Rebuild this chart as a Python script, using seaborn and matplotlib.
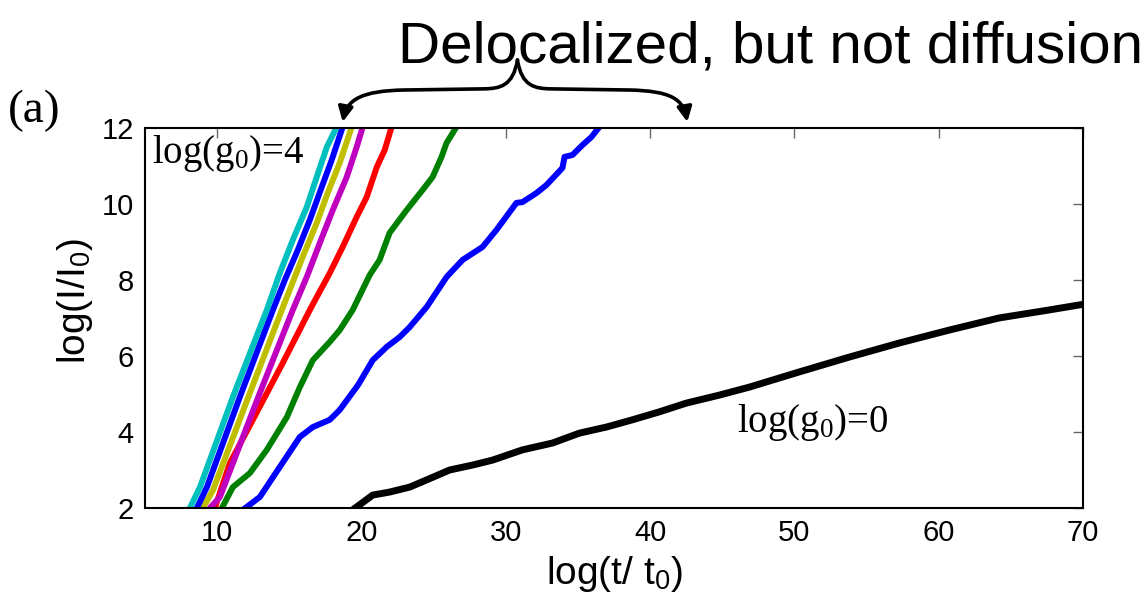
import numpy as np
import pandas as pd
import matplotlib
matplotlib.use("Agg")
import matplotlib.pyplot as plt
import seaborn as sns
from matplotlib.path import Path
from matplotlib.patches import FancyArrowPatch

# ======================
# Datos
# ======================
cian_x = [8.11, 8.81, 11.09, 13.44, 14.34, 15.24, 16.21, 16.90, 17.60, 18.29]
cian_y = [2.0, 2.55, 4.92, 7.21, 8.18, 9.05, 9.92, 10.71, 11.50, 12.03]

azul1_x = [8.60, 9.29, 11.57, 13.86, 14.69, 15.59, 16.42, 17.25, 17.94, 18.70]
azul1_y = [2.0, 2.55, 4.92, 7.21, 8.00, 8.79, 9.58, 10.45, 11.16, 12.03]

amarillo_x = [9.01, 9.71, 12.27, 14.48, 15.03, 15.93, 16.90, 17.66, 18.49, 19.33]
amarillo_y = [2.0, 2.47, 5.03, 7.21, 7.74, 8.61, 9.50, 10.29, 11.08, 12.03]

magenta_x = [9.50, 10.19, 12.96, 15.24, 16.21, 17.11, 18.01, 18.98, 19.67, 20.09]
magenta_y = [2.0, 2.29, 5.03, 7.21, 8.08, 8.97, 9.84, 10.71, 11.50, 12.03]

rojo_x = [9.84, 10.88, 12.47, 14.55, 16.42, 16.90, 17.80, 18.70, 19.67, 20.36, 21.06, 21.61, 22.09]
rojo_y = [2.0, 3.18, 4.32, 5.82, 7.21, 7.55, 8.18, 8.87, 9.66, 10.18, 10.97, 11.42, 12.03]

verde_x = [10.33, 11.09, 12.27, 13.44, 14.83, 15.73, 16.63, 17.80, 18.49, 19.39,
           20.57, 21.26, 21.95, 23.13, 24.24, 24.93, 25.55, 25.90, 26.59]
verde_y = [2.0, 2.55, 2.92, 3.53, 4.39, 5.18, 5.89, 6.37, 6.68, 7.21,
           8.13, 8.53, 9.24, 9.84, 10.37, 10.71, 11.24, 11.61, 12.03]

azul2_x = [11.78, 12.96, 14.34, 15.73, 16.63, 17.80, 18.49, 19.77, 20.78, 21.75, 22.65,
           23.34, 24.52, 25.90, 27.01, 28.39, 29.36, 30.74, 31.16, 32.13, 32.82,
           33.93, 34.07, 34.62, 35.31, 35.93, 36.49]
azul2_y = [1.95, 2.29, 3.08, 3.87, 4.13, 4.32, 4.58, 5.24, 5.89, 6.24, 6.50,
           6.76, 7.29, 8.08, 8.53, 8.87, 9.32, 10.03, 10.05, 10.29, 10.50,
           10.95, 11.24, 11.29, 11.55, 11.76, 12.03]

negro_x = [19.39, 20.78, 21.96, 23.34, 24.52, 26.11, 27.70, 29.08, 31.16, 33.24, 35.10,
           36.97, 38.77, 40.64, 42.51, 44.79, 46.87, 50.33, 53.79, 57.25, 60.71,
           64.17, 67.63, 70.0]
negro_y = [1.95, 2.34, 2.42, 2.55, 2.74, 3.00, 3.13, 3.26, 3.53, 3.71, 3.97,
           4.13, 4.32, 4.53, 4.76, 4.97, 5.18, 5.58, 5.97, 6.34, 6.68,
           7.00, 7.21, 7.36]

series = {
    "negro": (negro_x, negro_y),
    "azul2": (azul2_x, azul2_y),
    "verde": (verde_x, verde_y),
    "rojo": (rojo_x, rojo_y),
    "magenta": (magenta_x, magenta_y),
    "amarillo": (amarillo_x, amarillo_y),
    "azul1": (azul1_x, azul1_y),
    "cian": (cian_x, cian_y),
}
colores = {
    "negro": "#000000", "azul2": "#0000FF", "verde": "#008000", "rojo": "#FF0000",
    "magenta": "#BF00BF", "amarillo": "#BFBF00", "azul1": "#0000FF", "cian": "#00BFBF",
}

df = pd.concat(
    [pd.DataFrame({"x": sx, "y": sy, "serie": nombre}) for nombre, (sx, sy) in series.items()],
    ignore_index=True,
)

# ======================
# Estilo
# ======================
sns.set_theme(style="white")
plt.rcParams["font.family"] = ["Liberation Sans", "DejaVu Sans"]
plt.rcParams["mathtext.fontset"] = "custom"
plt.rcParams["mathtext.rm"] = "Liberation Serif"
plt.rcParams["mathtext.sf"] = "Liberation Sans"
plt.rcParams["mathtext.it"] = "Liberation Serif:italic"
plt.rcParams["text.color"] = "black"
plt.rcParams["axes.labelcolor"] = "black"
plt.rcParams["xtick.color"] = "black"
plt.rcParams["ytick.color"] = "black"

fig = plt.figure(figsize=(11.47, 6.02), dpi=100)
ax = fig.add_axes([145 / 1147, 1 - 508 / 602, 938 / 1147, 380 / 602])

for nombre in series:
    sub = df[df["serie"] == nombre]
    sns.lineplot(data=sub, x="x", y="y", color=colores[nombre], sort=False,
                 estimator=None, linewidth=5.0 if nombre == "negro" else 4.3,
                 ax=ax, legend=False)

ax.set_xlim(5, 70)
ax.set_ylim(2, 12)
ax.set_xticks([10, 20, 30, 40, 50, 60, 70])
ax.set_yticks([2, 4, 6, 8, 10, 12])
ax.tick_params(direction="in", top=True, right=True, length=7, width=1,
               color="0.4", labelcolor="black", labelsize=21, pad=8)
for s in ax.spines.values():
    s.set_color("black")
    s.set_linewidth(1.5)

ax.set_xlabel(r"log(t/ t$_\mathsf{0}$)", fontsize=28)
ax.set_ylabel(r"log(I/I$_\mathsf{0}$)", fontsize=28)
ax.xaxis.set_label_coords(0.5, -0.12)
ax.yaxis.set_label_coords(-0.053, 0.545)

ax.text(5.5, 11.08, r"log(g$_\mathrm{0}$)=4", fontsize=28, family="Liberation Serif",
        va="baseline", ha="left")
ax.text(46.0, 4.0, r"log(g$_\mathrm{0}$)=0", fontsize=28, family="Liberation Serif",
        va="baseline", ha="left")

fig.text(8 / 1147, 1 - 122 / 602, "(a)", fontsize=34, family="Liberation Serif",
         va="baseline", ha="left")
fig.text(770 / 1147, 1 - 63 / 602, "Delocalized, but not diffusion", fontsize=42,
         va="baseline", ha="center")

# llave con flechas
izq = Path([(30.81, 13.79), (30.5, 13.1), (29.6, 13.04), (28.5, 13.03),
            (23.0, 13.0), (20.0, 12.98), (19.0, 12.75), (18.7, 12.16)],
           [Path.MOVETO, Path.CURVE4, Path.CURVE4, Path.CURVE4,
            Path.LINETO, Path.CURVE4, Path.CURVE4, Path.CURVE4])
der = Path([(30.81, 13.79), (31.1, 13.1), (32.0, 13.04), (33.1, 13.03),
            (38.5, 13.0), (41.5, 12.98), (42.3, 12.75), (42.58, 12.16)],
           [Path.MOVETO, Path.CURVE4, Path.CURVE4, Path.CURVE4,
            Path.LINETO, Path.CURVE4, Path.CURVE4, Path.CURVE4])
for p in (izq, der):
    flecha = FancyArrowPatch(path=p, arrowstyle="-|>", mutation_scale=22, lw=2.6,
                             color="black", clip_on=False, transform=ax.transData)
    ax.add_patch(flecha)

fig.savefig("out.png", dpi=100)
